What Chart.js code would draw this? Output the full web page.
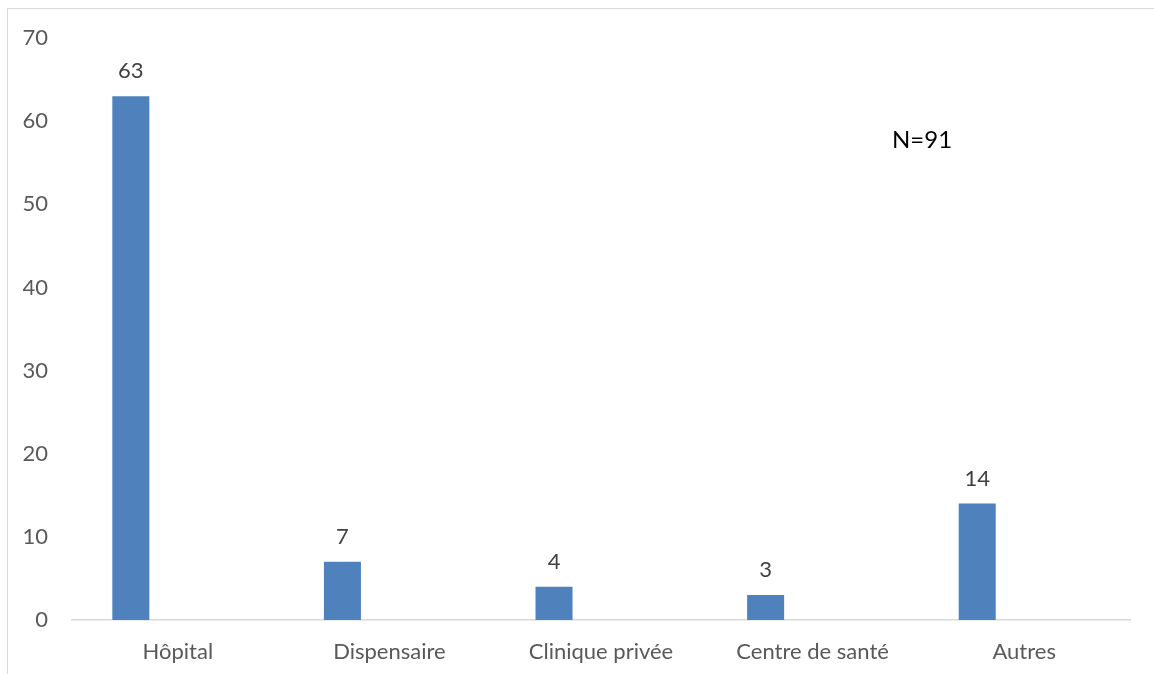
<!DOCTYPE html>
<html>
<head>
<meta charset="utf-8">
<script src="https://cdn.jsdelivr.net/npm/chart.js@4/dist/chart.umd.min.js"></script>
<style>
  html, body { margin: 0; padding: 0; background: #fff; }
  #wrap { position: relative; width: 1154px; height: 674px; overflow: hidden; }
  #frame { position: absolute; left: 7px; top: 8px; width: 1170px; height: 700px; border: 1px solid #d9d9d9; box-sizing: border-box; }
  #chart { position: absolute; left: 0; top: 0; }
  #note { position: absolute; left: 892px; top: 124px; font: 24px Lato, sans-serif; color: #000; }
</style>
</head>
<body>
<div id="wrap">
  <div id="frame"></div>
  <canvas id="chart" width="1154" height="674"></canvas>
  <div id="note">N=91</div>
</div>
<script>
var categories = ["Hôpital", "Dispensaire", "Clinique privée", "Centre de santé", "Autres"];
var counts = [63, 7, 4, 3, 14];
var emptySeries = [null, null, null, null, null];
var yTicks = [0, 10, 20, 30, 40, 50, 60, 70];

var valueLabels = {
  id: 'valueLabels',
  afterDatasetsDraw: function(chart) {
    var ctx = chart.ctx;
    var meta = chart.getDatasetMeta(0);
    ctx.save();
    ctx.font = '22px Lato, sans-serif';
    ctx.fillStyle = '#404040';
    ctx.textAlign = 'center';
    ctx.textBaseline = 'middle';
    meta.data.forEach(function(bar, i) {
      ctx.fillText(counts[i], bar.x, bar.y - 25);
    });
    ctx.restore();
  }
};

new Chart(document.getElementById('chart'), {
  type: 'bar',
  data: {
    labels: categories,
    datasets: [{
      data: counts,
      backgroundColor: '#4f81bd',
      categoryPercentage: 0.888,
      barPercentage: 0.394
    }, {
      data: emptySeries,
      backgroundColor: '#c0504d',
      categoryPercentage: 0.888,
      barPercentage: 0.394
    }]
  },
  options: {
    responsive: false,
    animation: false,
    layout: { padding: { top: 38, right: 24, left: 0, bottom: 0 } },
    plugins: { legend: { display: false }, tooltip: { enabled: false } },
    scales: {
      x: {
        grid: { display: false },
        border: { display: true, color: '#d9d9d9', width: 1.5 },
        ticks: { color: '#595959', font: { family: 'Lato', size: 22 }, padding: 11, maxRotation: 0 },
        afterFit: function(scale) { scale.height = 54; }
      },
      y: {
        min: 0,
        max: 70,
        afterBuildTicks: function(scale) { scale.ticks = yTicks.map(function(v) { return { value: v }; }); },
        grid: { display: false, drawTicks: false },
        border: { display: false },
        ticks: { color: '#595959', font: { family: 'Lato', size: 22 }, padding: 24 },
        afterFit: function(scale) { scale.width = 72; }
      }
    }
  },
  plugins: [valueLabels]
});
</script>
</body>
</html>
